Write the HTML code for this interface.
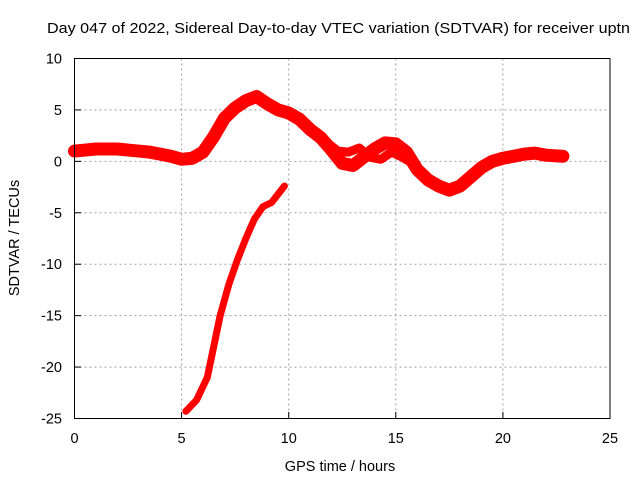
<!DOCTYPE html>
<html><head><meta charset="utf-8"><style>
body{margin:0;background:#fff;}
svg{display:block;font-family:"Liberation Sans",sans-serif;}
</style></head><body>
<svg id="chart" width="640" height="480" viewBox="0 0 640 480">
<text x="47" y="33" font-size="15" textLength="583" lengthAdjust="spacingAndGlyphs">Day 047 of 2022, Sidereal Day-to-day VTEC variation (SDTVAR) for receiver uptn</text>
<text transform="translate(19,238) rotate(-90)" text-anchor="middle" font-size="14.5">SDTVAR / TECUs</text>
<text x="340" y="471" text-anchor="middle" font-size="14.5">GPS time / hours</text>
<g id="grid"></g>
<g id="ticks"></g>
<g id="series"></g>
<rect x="74.5" y="58.5" width="535.5" height="360" fill="none" stroke="#000" stroke-width="1"/>
</svg>
<script>
const xTicks=[0,5,10,15,20,25];
const yTicks=[10,5,0,-5,-10,-15,-20,-25];
const mainT=[0,0.5,1,1.5,2,2.5,3,3.5,4,4.5,5,5.5,6,6.5,7,7.5,8,8.5,9,9.5,10,10.5,11,11.5,12,12.5,13,13.5,14,14.5,15,15.5,16,16.5,17,17.5,18,18.5,19,19.5,20,20.5,21,21.5,22,22.8];
const mainV=[1.0,1.1,1.2,1.2,1.2,1.1,1.0,0.9,0.7,0.5,0.2,0.3,0.9,2.4,4.2,5.2,5.9,6.3,5.6,5.0,4.7,4.1,3.1,2.3,1.1,-0.2,-0.4,0.4,1.2,1.8,1.7,0.9,-0.8,-1.8,-2.4,-2.8,-2.4,-1.5,-0.6,0,0.3,0.5,0.7,0.8,0.6,0.5];
const branchT=[11.8,12.3,12.8,13.3,13.8,14.3,14.8,15.3,15.8];
const branchV=[1.8,1.0,0.9,1.3,0.4,0.2,0.9,0.4,-0.2];
const lowT=[5.2,5.7,6.2,6.5,6.8,7.2,7.6,8.0,8.4,8.8,9.2,9.8];
const lowV=[-24.3,-23.2,-21,-18,-15,-12,-9.6,-7.5,-5.6,-4.4,-4.0,-2.4];
const X=t=>74.5+t*535.5/25, Y=v=>58.5+(10-v)*360/35;
const NS='http://www.w3.org/2000/svg';
const grid=document.getElementById('grid'),ticks=document.getElementById('ticks'),ser=document.getElementById('series');
function mk(tag,attrs,parent){const e=document.createElementNS(NS,tag);for(const k in attrs)e.setAttribute(k,attrs[k]);parent.appendChild(e);return e;}
xTicks.forEach(t=>{
 if(t>0&&t<25){const g=mk('line',{x1:X(t),x2:X(t),y1:58.5,y2:418.5,stroke:'#a0a0a0','stroke-dasharray':'2,3'},grid);
 
 }
 const l=mk('line',{x1:X(t),x2:X(t),y1:418.5,y2:412,stroke:'#000'},ticks);
 
 
 const tx=mk('text',{x:X(t),y:443,'text-anchor':'middle','font-size':'14.5'},ticks);tx.textContent=t;
 
 
});
yTicks.forEach(v=>{
 if(v<10&&v>-25){const g=mk('line',{x1:74.5,x2:610,y1:Y(v),y2:Y(v),stroke:'#a0a0a0','stroke-dasharray':'2,3'},grid);
 
 }
 const l=mk('line',{x1:74.5,x2:81,y1:Y(v),y2:Y(v),stroke:'#000'},ticks);
 
 
 const tx=mk('text',{x:62,y:Y(v)+5,'text-anchor':'end','font-size':'14.5'},ticks);tx.textContent=v;
 
 
});
function line(T,V,w,name){
 const pts=T.map((t,i)=>X(t)+','+Y(V[i])).join(' ');
 const p=mk('polyline',{points:pts,fill:'none',stroke:'#ff0000','stroke-width':w,'stroke-linejoin':'round','stroke-linecap':'round'},ser);
 
 
}
line(mainT,mainV,13,'sdtvar-main-series');
line(branchT,branchV,9,'sdtvar-branch-series');
line(lowT,lowV,7,'sdtvar-lower-series');
</script>
</body></html>
